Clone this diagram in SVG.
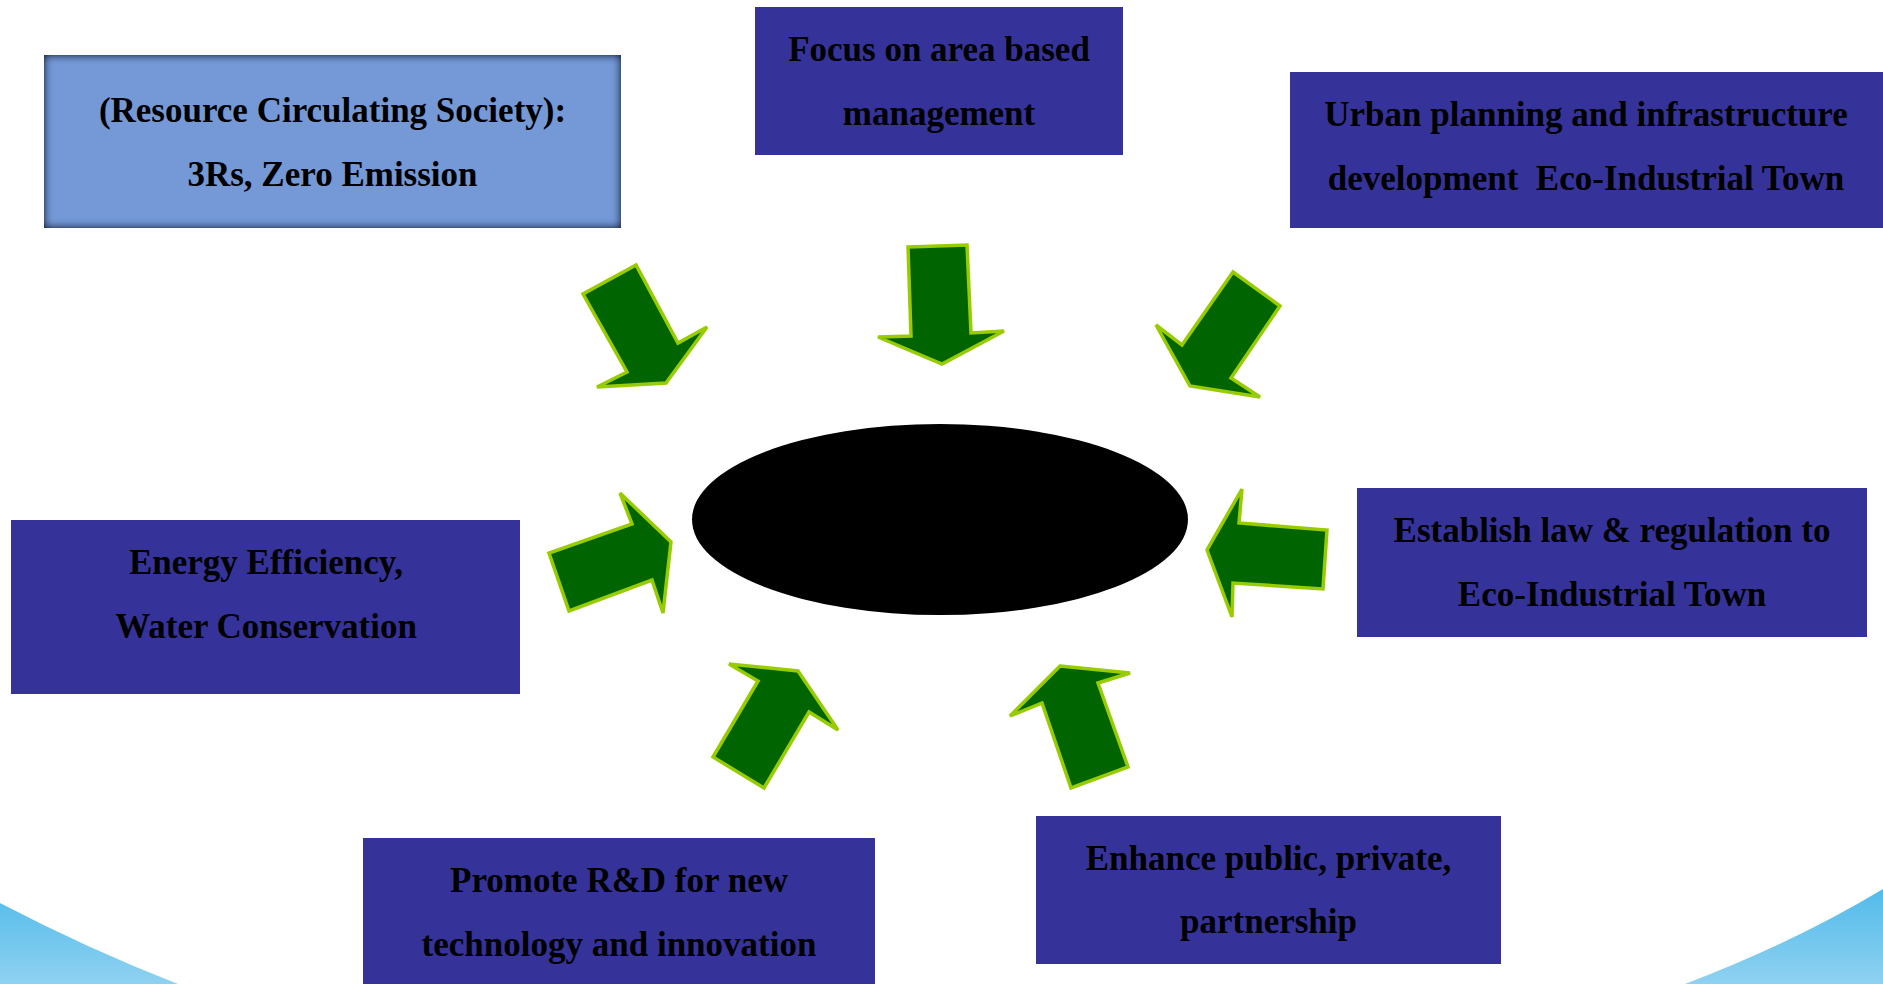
<svg xmlns="http://www.w3.org/2000/svg" width="1883" height="984" viewBox="0 0 1883 984">
<style>
.box{fill:#353399}
.lbl{font-family:"Liberation Serif","Times New Roman",serif;font-weight:bold;font-size:35px;fill:#000;text-anchor:middle}
.arr{fill:#006400;stroke:#99cc00;stroke-width:3.5;stroke-linejoin:miter}
</style>
<defs>
<linearGradient id="wave" gradientUnits="userSpaceOnUse" x1="0" y1="889" x2="0" y2="984">
<stop offset="0" stop-color="#52bbea"/>
<stop offset="1" stop-color="#8fd1f1"/>
</linearGradient>
<filter id="inner" x="-5%" y="-10%" width="110%" height="120%">
<feFlood flood-color="#141c38"/>
<feComposite in2="SourceAlpha" operator="out"/>
<feGaussianBlur stdDeviation="4"/>
<feComposite in2="SourceAlpha" operator="in" result="sh"/>
<feMerge><feMergeNode in="SourceGraphic"/><feMergeNode in="sh"/><feMergeNode in="sh"/></feMerge>
</filter>
</defs>
<rect width="1883" height="984" fill="#fff"/>
<g id="background">
<path d="M0,903 Q88,949 178,984 L0,984 Z" fill="url(#wave)"/>
<path d="M1685,984 Q1795,942 1883,889 L1883,984 Z" fill="url(#wave)"/>
</g>
<g id="center">
<ellipse cx="940" cy="519.5" rx="248" ry="95.5" fill="#000"/>
</g>
<g id="connectors">
<polygon class="arr" points="636,265 583,294 627,372 597,387 666,383 707,327 678,343"/>
<polygon class="arr" points="908,247 967,245 971,333 1004,331 942,364 878,337 911,336"/>
<polygon class="arr" points="1233,272 1280,306 1231,378 1260,397 1190,386 1156,325 1182,345"/>
<polygon class="arr" points="620,493 632,524 549,553 569,611 652,580 663,613 671,542"/>
<polygon class="arr" points="1242,489 1239,523 1327,530 1323,589 1233,583 1232,617 1207,550"/>
<polygon class="arr" points="729,664 798,671 838,730 809,712 764,788 713,757 758,681"/>
<polygon class="arr" points="1060,666 1130,673 1098,683 1128,767 1071,788 1042,703 1010,716"/>
</g>
<g id="node-resource">
<rect x="44" y="55" width="577" height="173" fill="#7599d7" filter="url(#inner)"/>
<text class="lbl" x="332.5" y="122">(Resource Circulating Society):</text>
<text class="lbl" x="332.5" y="186">3Rs, Zero Emission</text>
</g>
<g id="node-focus">
<rect class="box" x="755" y="7" width="368" height="148"/>
<text class="lbl" x="939" y="61">Focus on area based</text>
<text class="lbl" x="939" y="125">management</text>
</g>
<g id="node-urban">
<rect class="box" x="1290" y="72" width="593" height="156"/>
<text class="lbl" x="1586" y="126" xml:space="preserve">Urban planning and infrastructure</text>
<text class="lbl" x="1586" y="190" xml:space="preserve">development  Eco-Industrial Town</text>
</g>
<g id="node-energy">
<rect class="box" x="11" y="520" width="509" height="174"/>
<text class="lbl" x="266" y="574">Energy Efficiency,</text>
<text class="lbl" x="266" y="638">Water Conservation</text>
</g>
<g id="node-law">
<rect class="box" x="1357" y="488" width="510" height="149"/>
<text class="lbl" x="1612" y="542">Establish law &amp; regulation to</text>
<text class="lbl" x="1612" y="606">Eco-Industrial Town</text>
</g>
<g id="node-rd">
<rect class="box" x="363" y="838" width="512" height="150"/>
<text class="lbl" x="619" y="892">Promote R&amp;D for new</text>
<text class="lbl" x="619" y="956">technology and innovation</text>
</g>
<g id="node-ppp">
<rect class="box" x="1036" y="816" width="465" height="148"/>
<text class="lbl" x="1268.5" y="870">Enhance public, private,</text>
<text class="lbl" x="1268.5" y="933">partnership</text>
</g>
</svg>
